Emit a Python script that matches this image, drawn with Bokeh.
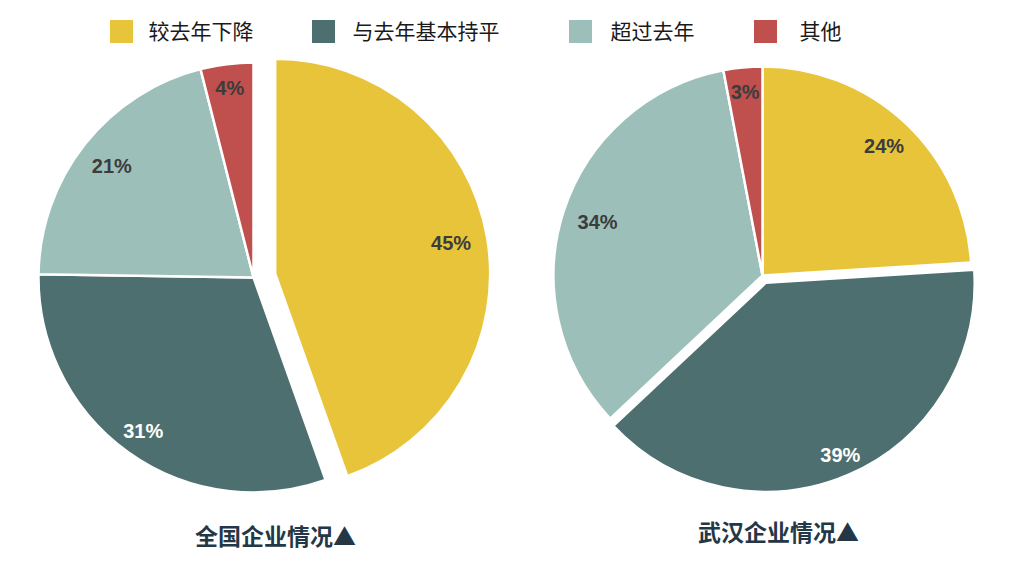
import math
from bokeh.plotting import figure
from bokeh.models import Range1d, ColumnDataSource
from bokeh.core.properties import value
from bokeh.embed import file_html
from bokeh.resources import INLINE

# ---------------- data ----------------
categories = ["较去年下降", "与去年基本持平", "超过去年", "其他"]
national = [45, 31, 21, 4]
wuhan = [24, 39, 34, 3]
titles = ["全国企业情况▲", "武汉企业情况▲"]

# ---------------- style ----------------
colors = ["#E8C43A", "#4E6F6F", "#9CC0B9", "#C0504D"]
label_colors = ["#3C3C3C", "#FFFFFF", "#3C3C3C", "#3C3C3C"]
W, H = 1009, 563

p = figure(width=W, height=H, x_range=Range1d(0, W), y_range=Range1d(0, H),
           output_backend="svg", toolbar_location=None,
           x_axis_type=None, y_axis_type=None, min_border=0)
p.grid.visible = False
p.outline_line_color = None
p.background_fill_color = "white"
p.border_fill_color = "white"

def sy(y):
    return H - y

pies = [
    dict(vals=national, cx=253, cy=277, r=215, explode=[22, 0, 0, 0],
         lab=[0.83, 0.88, 0.84, 0.89], title=titles[0], tx=275, ty=534),
    dict(vals=wuhan, cx=762, cy=275, r=209, explode=[0, 8, 0, 0],
         lab=[0.85, 0.90, 0.83, 0.88], title=titles[1], tx=778, ty=530),
]

for pie in pies:
    vals = pie["vals"]
    tot = float(sum(vals))
    cum = 0.0
    xs, ys, sa, ea, cols = [], [], [], [], []
    lx, ly, lt, lc = [], [], [], []
    for i, v in enumerate(vals):
        f0 = cum / tot
        f1 = (cum + v) / tot
        cum += v
        mid = (f0 + f1) / 2 * 2 * math.pi  # clockwise from top
        dx, dy = math.sin(mid), math.cos(mid)  # dy upward
        ox = pie["cx"] + pie["explode"][i] * dx
        oy = sy(pie["cy"]) + pie["explode"][i] * dy
        xs.append(ox); ys.append(oy)
        sa.append(math.pi / 2 - f0 * 2 * math.pi)
        ea.append(math.pi / 2 - f1 * 2 * math.pi)
        cols.append(colors[i])
        lx.append(ox + pie["lab"][i] * pie["r"] * dx)
        ly.append(oy + pie["lab"][i] * pie["r"] * dy)
        lt.append(f"{v}%")
        lc.append(label_colors[i])
    src = ColumnDataSource(dict(x=xs, y=ys, sa=sa, ea=ea, c=cols))
    p.wedge(x="x", y="y", radius=pie["r"], start_angle="sa", end_angle="ea",
            direction="clock", fill_color="c", line_color="white", line_width=2.5, source=src)
    lsrc = ColumnDataSource(dict(x=lx, y=ly, t=lt, c=lc))
    p.text(x="x", y="y", text="t", text_color="c", source=lsrc,
           text_font=value("Liberation Sans"), text_font_style="bold",
           text_font_size="20px", text_align="center", text_baseline="middle")
    p.text(x=[pie["tx"]], y=[sy(pie["ty"])], text=[pie["title"]],
           text_font=value("Noto Sans CJK SC"), text_font_style="bold",
           text_font_size="23px", text_color="#243746",
           text_align="center", text_baseline="middle")

# legend
leg_sq_x = [121, 323, 580, 765]
leg_tx_x = [148, 352, 610, 799]
leg_y = 31
p.scatter(x=leg_sq_x, y=[sy(leg_y)] * 4, marker="square", size=23,
          fill_color=colors, line_color=None)
p.text(x=leg_tx_x, y=[sy(leg_y - 2)] * 4, text=categories,
       text_font=value("Noto Sans CJK SC"), text_font_size="21px",
       text_color="#1A1A1A", text_align="left", text_baseline="middle")

open("out.html", "w").write(file_html(p, INLINE))
